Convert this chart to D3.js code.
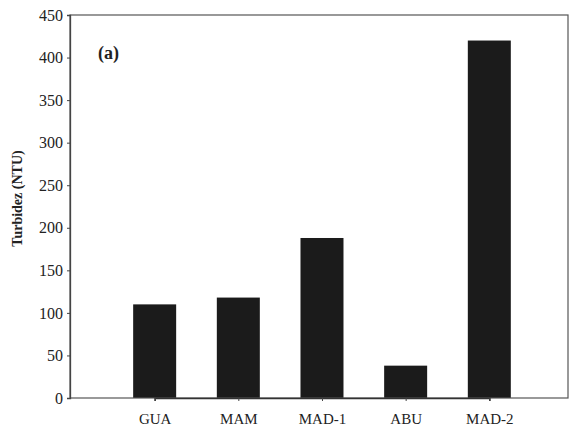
<!DOCTYPE html>
<html>
<head>
<meta charset="utf-8">
<script src="https://cdn.jsdelivr.net/npm/d3@7"></script>
<style>
  body { margin: 0; background: #fff; }
  text { font-family: "Liberation Serif", "DejaVu Serif", serif; fill: #222; }
</style>
</head>
<body>
<svg width="574" height="433"></svg>
<script>
var sites = ["GUA", "MAM", "MAD-1", "ABU", "MAD-2"];
var turbidez = [110, 118, 188, 38, 420];
var yTicks = [0, 50, 100, 150, 200, 250, 300, 350, 400, 450];

var svg = d3.select("svg"),
  mLeft = 70,
  mTop = 15,
  mRight = 568,
  mBottom = 398,
  width = mRight - mLeft,
  height = mBottom - mTop;

var g = svg.append("g").attr("transform", "translate(" + mLeft + "," + mTop + ")");

var xScale = d3.scalePoint().domain(sites).range([width * 0.17, width * 0.842]),
  yScale = d3.scaleLinear().domain([0, 450]).range([height, 0]);

var barW = 43;

// bars
g.selectAll(".bar")
  .data(sites)
  .enter()
  .append("rect")
  .attr("class", "bar")
  .attr("x", function (d) { return xScale(d) - barW / 2; })
  .attr("y", function (d, i) { return yScale(turbidez[i]); })
  .attr("width", barW)
  .attr("height", function (d, i) { return height - yScale(turbidez[i]); })
  .attr("fill", "#1b1b1b");

// frame
g.append("rect")
  .attr("width", width)
  .attr("height", height)
  .attr("fill", "none")
  .attr("stroke", "#555")
  .attr("stroke-width", 1.2);

// y axis
var yAxis = g.append("g")
  .call(d3.axisLeft(yScale).tickValues(yTicks).tickSize(3).tickPadding(4));
yAxis.select(".domain").attr("stroke", "#444").attr("stroke-width", 1.3);
yAxis.selectAll(".tick line").attr("stroke", "#444");
yAxis.selectAll("text").attr("font-size", "16px").attr("font-family", "Liberation Serif").attr("fill", "#222");

// x axis
var xAxis = g.append("g")
  .attr("transform", "translate(0," + height + ")")
  .call(d3.axisBottom(xScale).tickSize(3).tickPadding(12));
xAxis.select(".domain").attr("stroke", "#333").attr("stroke-width", 1.6);
xAxis.selectAll(".tick line").attr("stroke", "#444");
xAxis.selectAll("text").attr("font-size", "15px").attr("font-family", "Liberation Serif").attr("fill", "#222");

// y label
svg.append("text")
  .attr("transform", "translate(22," + (mTop + height / 2 - 8) + ") rotate(-90)")
  .attr("text-anchor", "middle")
  .attr("font-size", "14px")
  .attr("font-weight", "bold")
  .text("Turbidez (NTU)");

// panel label
g.append("text")
  .attr("x", 28)
  .attr("y", 44)
  .attr("font-size", "18px")
  .attr("font-weight", "bold")
  .text("(a)");
</script>
</body>
</html>
